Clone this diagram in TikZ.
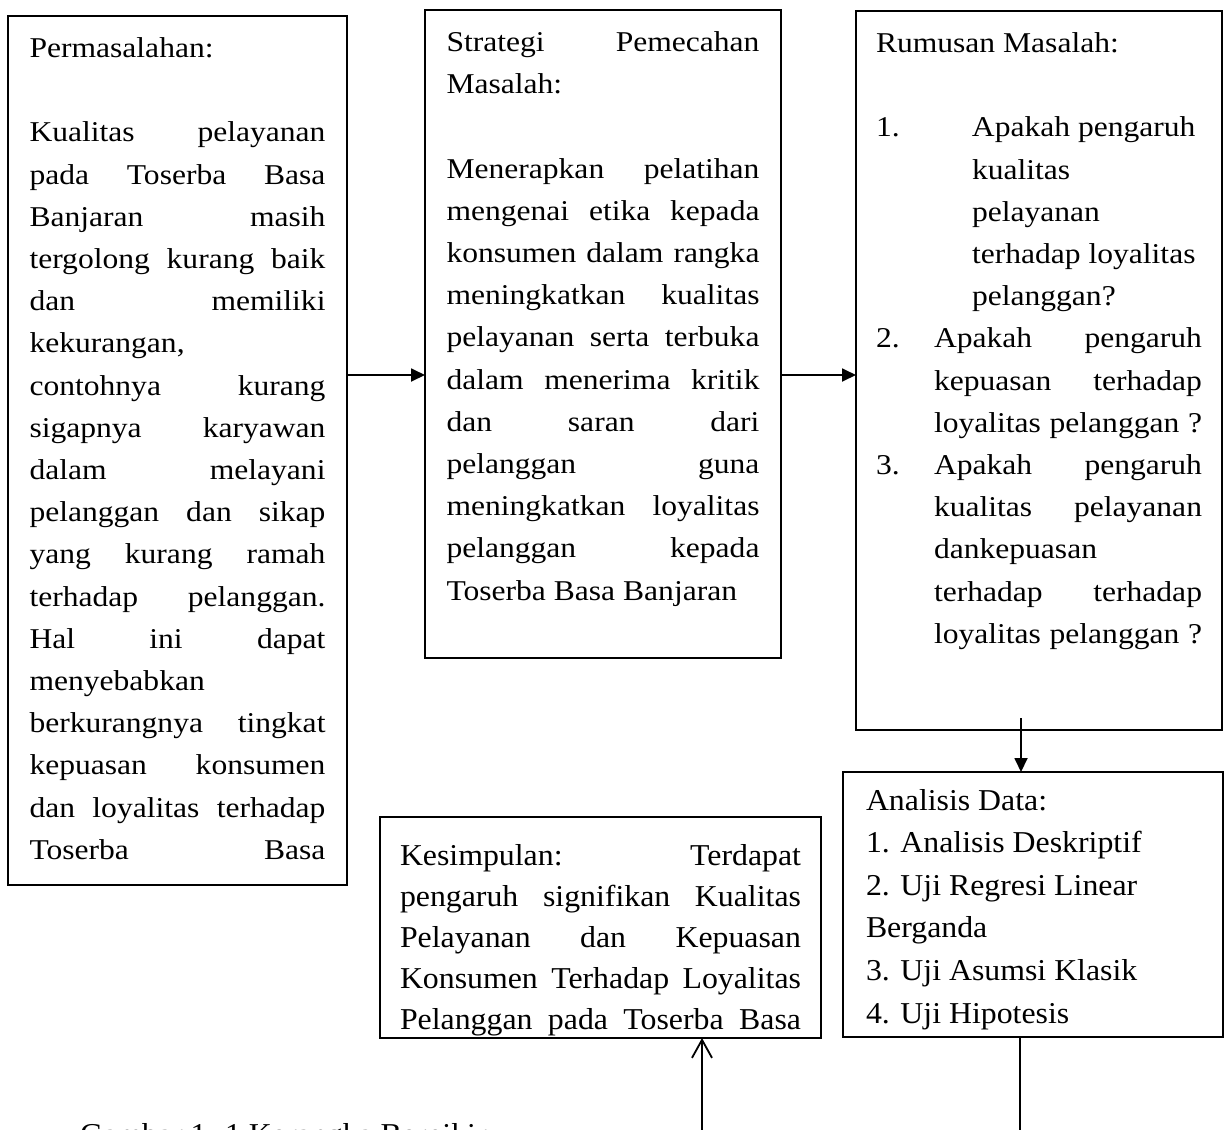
\documentclass[tikz,border=0pt]{standalone}
\usepackage{fontspec}
\setmainfont{Liberation Serif}
\newfontfamily\lebar[FakeStretch=1.1]{Liberation Serif}
\newfontfamily\agaklebar[FakeStretch=1.05]{Liberation Serif}
\usetikzlibrary{arrows.meta}
\newcommand\rata[1]{\makebox[\linewidth][s]{#1}}
\newcommand\nomor[2]{\makebox[58pt][l]{#1}\makebox[\dimexpr\linewidth-58pt\relax][s]{#2}}
\newcommand\lanjut[1]{\hspace*{58pt}\makebox[\dimexpr\linewidth-58pt\relax][s]{#1}}
\begin{document}
\begin{tikzpicture}[x=1pt,y=-1pt]
            \tikzstyle{kotak}=[draw,line width=2pt,anchor=north west,outer sep=0pt,inner xsep=21.5pt,inner ysep=12pt,font={\lebar\fontsize{28.7pt}{42.2pt}\selectfont}]
            \tikzstyle{kotakb}=[kotak,font={\agaklebar\fontsize{30.3pt}{42.6pt}\selectfont}]
            \tikzstyle{panah}=[-{Triangle[length=14pt,width=13pt]},line width=1.8pt]
            \tikzstyle{garis}=[line width=1.8pt]
            \tikzstyle{panahbuka}=[-{Straight Barb[length=18pt,width=20pt]},line width=1.8pt]
            \useasboundingbox (0,0) rectangle (1224,1130);
            \clip (0,0) rectangle (1224,1130);
            \node[kotak] (masalah) at (8,16) {\parbox[t][845pt][t]{296pt}{\strut Permasalahan:\\
                \strut\\
                \rata{Kualitas pelayanan}\\
                \rata{pada Toserba Basa}\\
                \rata{Banjaran masih}\\
                \rata{tergolong kurang baik}\\
                \rata{dan memiliki}\\
                kekurangan,\\
                \rata{contohnya kurang}\\
                \rata{sigapnya karyawan}\\
                \rata{dalam melayani}\\
                \rata{pelanggan dan sikap}\\
                \rata{yang kurang ramah}\\
                \rata{terhadap pelanggan.}\\
                \rata{Hal ini dapat}\\
                menyebabkan\\
                \rata{berkurangnya tingkat}\\
                \rata{kepuasan konsumen}\\
                \rata{dan loyalitas terhadap}\\
                \rata{Toserba Basa}}};
            \node[kotak] (strategi) at (425,10) {\parbox[t][624pt][t]{313pt}{\strut\rata{Strategi Pemecahan}\\
                Masalah:\\
                \strut\\
                \rata{Menerapkan pelatihan}\\
                \rata{mengenai etika kepada}\\
                \rata{konsumen dalam rangka}\\
                \rata{meningkatkan kualitas}\\
                \rata{pelayanan serta terbuka}\\
                \rata{dalam menerima kritik}\\
                \rata{dan saran dari}\\
                \rata{pelanggan guna}\\
                \rata{meningkatkan loyalitas}\\
                \rata{pelanggan kepada}\\
                Toserba Basa Banjaran}};
            \node[kotak,inner xsep=20pt] (rumusan) at (856,11) {\parbox[t][695pt][t]{326pt}{\strut Rumusan Masalah:\\
                \strut\\
                \makebox[96pt][l]{1.}Apakah pengaruh\\
                \hspace*{96pt}kualitas\\
                \hspace*{96pt}pelayanan\\
                \hspace*{96pt}terhadap loyalitas\\
                \hspace*{96pt}pelanggan?\\
                \nomor{2.}{Apakah pengaruh}\\
                \lanjut{kepuasan terhadap}\\
                \lanjut{loyalitas pelanggan ?}\\
                \nomor{3.}{Apakah pengaruh}\\
                \lanjut{kualitas pelayanan}\\
                \hspace*{58pt}dankepuasan\\
                \lanjut{terhadap terhadap}\\
                \lanjut{loyalitas pelanggan ?}}};
            \node[kotakb,inner xsep=23pt,inner ysep=8.2pt] (analisis) at (843,772) {\parbox[t][248.6pt][t]{334pt}{\strut Analisis Data:\\
                1. Analisis Deskriptif\\
                2. Uji Regresi Linear\\
                Berganda\\
                3. Uji Asumsi Klasik\\
                4. Uji Hipotesis}};
            \node[kotakb,inner xsep=20pt,inner ysep=19.8pt,font={\agaklebar\fontsize{30.3pt}{41pt}\selectfont}] (kesimpulan) at (380,817) {\parbox[t][181.4pt][t]{401pt}{\strut\rata{Kesimpulan: Terdapat}\\
                \rata{pengaruh signifikan Kualitas}\\
                \rata{Pelayanan dan Kepuasan}\\
                \rata{Konsumen Terhadap Loyalitas}\\
                \rata{Pelanggan pada Toserba Basa}}};
            \node[anchor=base west,inner sep=0pt,font={\agaklebar\fontsize{30.3pt}{42pt}\selectfont}] (judul) at (80,1144) {Gambar 1. 1 Kerangka Berpikir};
            \coordinate (baris) at (0,375);
            \coordinate (kolom) at (1021,718);
            \coordinate (bawahA) at (1020,1140);
            \coordinate (bawahK) at (702,1140);
            \draw[panah] (masalah.east |- baris) -- (strategi.west |- baris);
            \draw[panah] (strategi.east |- baris) -- (rumusan.west |- baris);
            \draw[panah] (kolom) -- (kolom |- analisis.north);
            \draw[garis] (analisis.south -| bawahA) -- (bawahA);
            \draw[panahbuka] (bawahK) -- (bawahK |- kesimpulan.south);
        \end{tikzpicture}
\end{document}
